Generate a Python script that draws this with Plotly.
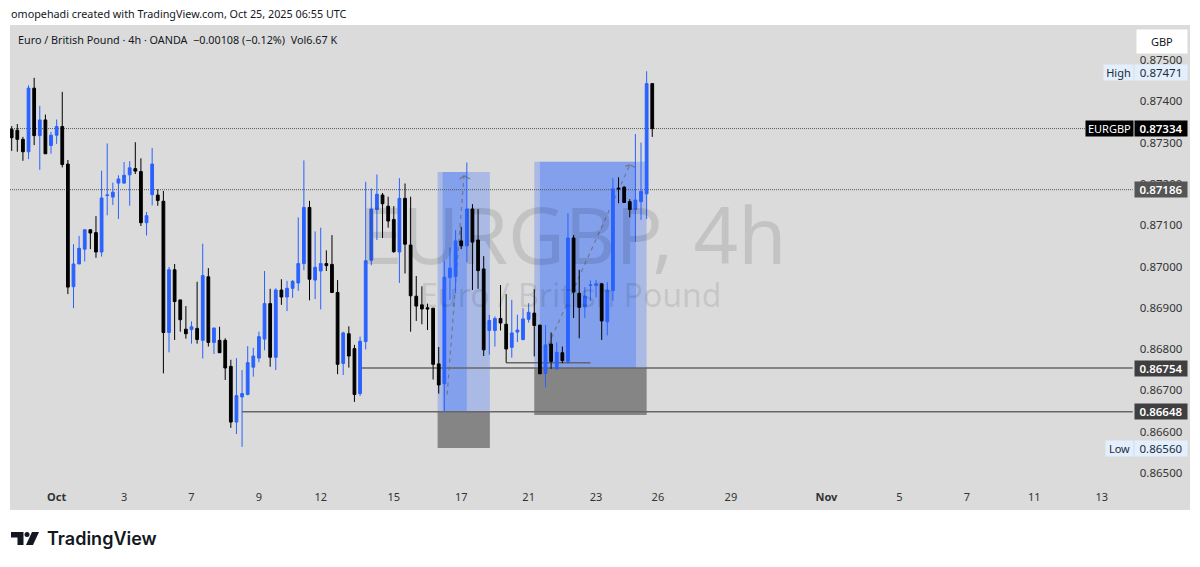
#!/usr/bin/env python
# coding: utf-8

import plotly.graph_objects as go

# ## Chart data, 4h bars of EURGBP

opens = [0.87332, 0.87330, 0.87308, 0.87278, 0.87432, 0.87317, 0.87355, 0.87293, 0.87318, 0.87339,
         0.87248, 0.86951, 0.87006, 0.87042, 0.87089, 0.87082, 0.87035, 0.87172, 0.87168, 0.87202,
         0.87202, 0.87222, 0.87237, 0.87230, 0.87106, 0.87174, 0.87173, 0.87158, 0.86840, 0.86992,
         0.86919, 0.86848, 0.86847, 0.86850, 0.86821, 0.86975, 0.86816, 0.86821, 0.86821, 0.86758,
         0.86623, 0.86684, 0.86690, 0.86756, 0.86778, 0.86824, 0.86910, 0.86780, 0.86943, 0.86926,
         0.86947, 0.86960, 0.87007, 0.87143, 0.86967, 0.86989, 0.87007, 0.87005, 0.86937, 0.86765,
         0.86837, 0.86801, 0.86692, 0.86818, 0.87015, 0.87138, 0.87173, 0.87146, 0.87114, 0.87035,
         0.87165, 0.87052, 0.86928, 0.86907, 0.86900, 0.86899, 0.86764, 0.86716, 0.86973, 0.86975,
         0.87062, 0.87050, 0.87139, 0.87064, 0.86994, 0.86845, 0.86845, 0.86874, 0.86860, 0.86804,
         0.86841, 0.86823, 0.86872, 0.86887, 0.86858, 0.86741, 0.86812, 0.86752, 0.86791, 0.86770,
         0.87069, 0.86935, 0.86902, 0.86954, 0.86954, 0.86958, 0.86866, 0.86941, 0.87190, 0.87192,
         0.87157, 0.87138, 0.87157, 0.87176, 0.87443]
highs = [0.87340, 0.87345, 0.87314, 0.87439, 0.87457, 0.87389, 0.87368, 0.87326, 0.87356, 0.87423,
         0.87258, 0.87054, 0.87074, 0.87089, 0.87089, 0.87122, 0.87232, 0.87298, 0.87203, 0.87221,
         0.87253, 0.87255, 0.87301, 0.87262, 0.87132, 0.87287, 0.87187, 0.87183, 0.86999, 0.87006,
         0.86919, 0.86904, 0.86867, 0.86963, 0.87055, 0.86996, 0.86851, 0.86854, 0.86826, 0.86774,
         0.86778, 0.86749, 0.86807, 0.86803, 0.86842, 0.86989, 0.86946, 0.86947, 0.86969, 0.86965,
         0.86967, 0.87119, 0.87257, 0.87159, 0.87085, 0.87094, 0.87039, 0.87076, 0.86967, 0.86842,
         0.86855, 0.86810, 0.86830, 0.87205, 0.87189, 0.87223, 0.87178, 0.87169, 0.87146, 0.87214,
         0.87201, 0.87169, 0.86977, 0.86952, 0.86910, 0.86899, 0.86805, 0.87013, 0.87046, 0.87088,
         0.87096, 0.87252, 0.87151, 0.87139, 0.87025, 0.86883, 0.86879, 0.86955, 0.86933, 0.86919,
         0.86883, 0.86899, 0.86911, 0.86945, 0.86858, 0.86858, 0.86840, 0.86816, 0.86806, 0.87129,
         0.87076, 0.86992, 0.86950, 0.86966, 0.86967, 0.86959, 0.86962, 0.87214, 0.87216, 0.87195,
         0.87163, 0.87321, 0.87300, 0.87473, 0.87444]
lows = [0.87280, 0.87278, 0.87256, 0.87260, 0.87294, 0.87234, 0.87273, 0.87273, 0.87297, 0.87240,
        0.86933, 0.86899, 0.87006, 0.87012, 0.87042, 0.87021, 0.87024, 0.87124, 0.87149, 0.87115,
        0.87200, 0.87147, 0.87224, 0.87098, 0.87075, 0.87148, 0.87147, 0.86741, 0.86792, 0.86822,
        0.86842, 0.86825, 0.86813, 0.86813, 0.86777, 0.86806, 0.86788, 0.86791, 0.86725, 0.86609,
        0.86594, 0.86563, 0.86688, 0.86733, 0.86768, 0.86797, 0.86757, 0.86749, 0.86907, 0.86892,
        0.86924, 0.86941, 0.86991, 0.86918, 0.86921, 0.86896, 0.86989, 0.86937, 0.86739, 0.86737,
        0.86755, 0.86672, 0.86686, 0.86799, 0.87003, 0.87064, 0.87069, 0.87094, 0.87033, 0.86960,
        0.86983, 0.86842, 0.86868, 0.86860, 0.86846, 0.86726, 0.86692, 0.86649, 0.86919, 0.86935,
        0.87042, 0.87010, 0.86943, 0.86946, 0.86783, 0.86786, 0.86806, 0.86845, 0.86767, 0.86779,
        0.86817, 0.86821, 0.86864, 0.86782, 0.86740, 0.86707, 0.86752, 0.86750, 0.86766, 0.86764,
        0.86875, 0.86826, 0.86875, 0.86917, 0.86925, 0.86822, 0.86833, 0.86917, 0.87153, 0.87155,
        0.87119, 0.87060, 0.87113, 0.87115, 0.87314]
closes = [0.87312, 0.87308, 0.87278, 0.87432, 0.87317, 0.87355, 0.87273, 0.87318, 0.87339, 0.87247,
          0.86950, 0.87006, 0.87044, 0.87089, 0.87081, 0.87035, 0.87166, 0.87173, 0.87180, 0.87212,
          0.87221, 0.87239, 0.87231, 0.87106, 0.87123, 0.87248, 0.87160, 0.86840, 0.86992, 0.86915,
          0.86871, 0.86837, 0.86854, 0.86823, 0.86978, 0.86816, 0.86851, 0.86791, 0.86754, 0.86623,
          0.86687, 0.86692, 0.86767, 0.86783, 0.86830, 0.86910, 0.86780, 0.86943, 0.86926, 0.86947,
          0.86964, 0.87007, 0.87143, 0.86969, 0.86998, 0.87007, 0.87002, 0.86937, 0.86763, 0.86839,
          0.86783, 0.86690, 0.86819, 0.87014, 0.87139, 0.87175, 0.87152, 0.87110, 0.87036, 0.87165,
          0.87054, 0.86929, 0.86904, 0.86897, 0.86897, 0.86763, 0.86713, 0.86974, 0.86996, 0.87062,
          0.87050, 0.87139, 0.87059, 0.86990, 0.86798, 0.86869, 0.86874, 0.86863, 0.86800, 0.86839,
          0.86846, 0.86873, 0.86889, 0.86857, 0.86740, 0.86810, 0.86770, 0.86792, 0.86772, 0.87069,
          0.86938, 0.86901, 0.86928, 0.86955, 0.86958, 0.86868, 0.86942, 0.87188, 0.87188, 0.87155,
          0.87138, 0.87161, 0.87182, 0.87443, 0.87334]

date_ticks = [8, 20, 32, 44, 55, 68, 80, 92, 104, 115, 128, 145, 158, 170, 182, 194]
date_labels = ['Oct', '3', '7', '9', '12', '15', '17', '21', '23', '26', '29', 'Nov', '5', '7', '11', '13']
bold_dates = ['Oct', 'Nov']

price_ticks = [0.865, 0.866, 0.867, 0.868, 0.869, 0.870, 0.871, 0.872, 0.873, 0.874, 0.875]

# zones drawn on the chart, in bars and prices: (first bar, last bar, bottom, top)
blue_outer = [(75.8, 85.1, 0.86648, 0.87229), (93.0, 113.0, 0.86754, 0.87254)]
blue_inner = [(76.7, 81.0, 0.86648, 0.87229), (94.0, 111.1, 0.86754, 0.87254)]
grey_zones = [(75.8, 85.1, 0.86560, 0.86648), (93.0, 113.0, 0.86640, 0.86754)]

# levels: (price, first bar, last bar)
dotted_levels = [(0.87334, -0.3, 191.0), (0.87186, -0.3, 199.5)]
solid_levels = [(0.86754, 62.0, 199.5), (0.86648, 41.0, 199.5), (0.86767, 88.0, 103.0)]

# dashed moves inside the zones: (bar, price, bar, price)
dashed_moves = [(77.5, 0.86690, 80.5, 0.87220), (95.5, 0.86810, 110.0, 0.87246)]
arrow_heads = [(80.5, 0.87220, 79.7, 0.87212), (80.5, 0.87220, 81.6, 0.87212),
               (110.0, 0.87246, 109.2, 0.87243), (110.0, 0.87246, 111.0, 0.87240)]

# tags on the price scale: (price, text, background, text colour)
price_tags = [(0.87471, '0.87471', '#e3effd', '#222a3a'), (0.87334, '0.87334', '#000000', '#ffffff'),
              (0.87186, '0.87186', '#555555', '#ffffff'), (0.86754, '0.86754', '#3f3f3f', '#ffffff'),
              (0.86648, '0.86648', '#3f3f3f', '#ffffff'), (0.86560, '0.86560', '#e3effd', '#222a3a')]
side_tags = [(0.87471, 'High', '#e3effd', '#222a3a', 1103), (0.87334, 'EURGBP', '#000000', '#ffffff', 1085),
             (0.86560, 'Low', '#e3effd', '#222a3a', 1105)]

BG = '#dbdbdb'
BLUE = '#2962ff'
BLACK = '#000000'
FONT = 'Noto Sans'

# plot area in page pixels
LEFT, RIGHT, TOP, BOTTOM = 10, 1190, 25, 510


def page_x(px):
    return (px - LEFT) / (RIGHT - LEFT)


def page_y(py):
    return (BOTTOM - py) / (BOTTOM - TOP)


def logo_path(points):
    return 'M' + ' L'.join(f'{page_x(a):.5f},{page_y(b):.5f}' for a, b in points) + ' Z'


bars = list(range(len(opens)))

fig = go.Figure(go.Candlestick(
    x=bars, open=opens, high=highs, low=lows, close=closes,
    increasing={'line': {'color': BLUE, 'width': 1}, 'fillcolor': BLUE},
    decreasing={'line': {'color': BLACK, 'width': 1}, 'fillcolor': BLACK},
    whiskerwidth=0, showlegend=False, hoverinfo='skip',
))

for x0, x1, y0, y1 in grey_zones:
    fig.add_shape(type='rect', x0=x0, x1=x1, y0=y0, y1=y1, layer='below',
                  fillcolor='#858585', line={'width': 0})
for x0, x1, y0, y1 in blue_outer:
    fig.add_shape(type='rect', x0=x0, x1=x1, y0=y0, y1=y1, layer='below',
                  fillcolor='rgba(41,98,255,0.27)', line={'width': 0})
for x0, x1, y0, y1 in blue_inner:
    fig.add_shape(type='rect', x0=x0, x1=x1, y0=y0, y1=y1, layer='below',
                  fillcolor='rgba(41,98,255,0.30)', line={'width': 0})

for price, x0, x1 in dotted_levels:
    fig.add_shape(type='line', x0=x0, x1=x1, y0=price, y1=price, layer='below',
                  line={'color': '#555555', 'width': 1, 'dash': '1px,1px'})
for price, x0, x1 in solid_levels:
    fig.add_shape(type='line', x0=x0, x1=x1, y0=price, y1=price, layer='below',
                  line={'color': '#666666', 'width': 1.5})
for x0, y0, x1, y1 in dashed_moves:
    fig.add_shape(type='line', x0=x0, x1=x1, y0=y0, y1=y1, layer='below',
                  line={'color': 'rgba(110,110,110,0.8)', 'width': 1.2, 'dash': '4px,4px'})
for x0, y0, x1, y1 in arrow_heads:
    fig.add_shape(type='line', x0=x0, x1=x1, y0=y0, y1=y1, layer='below',
                  line={'color': 'rgba(110,110,110,0.8)', 'width': 1.2})

# TradingView logo
fig.add_shape(type='path', xref='paper', yref='paper', fillcolor='#131722', line={'width': 0},
              path=logo_path([(11, 532), (23.5, 532), (23.5, 545), (17.5, 545), (17.5, 537.5), (11, 537.5)]))
fig.add_shape(type='circle', xref='paper', yref='paper', fillcolor='#131722', line={'width': 0},
              x0=page_x(24.5), x1=page_x(29.5), y0=page_y(537), y1=page_y(532))
fig.add_shape(type='path', xref='paper', yref='paper', fillcolor='#131722', line={'width': 0},
              path=logo_path([(32, 532), (39, 532), (33, 545), (26, 545)]))


def page_text(text, px, py, size, color='#131722', weight=400, family=FONT, anchor='left'):
    fig.add_annotation(text=text, xref='paper', yref='paper', x=page_x(px), y=page_y(py),
                       xanchor=anchor, yanchor='middle', showarrow=False,
                       font={'size': size, 'color': color, 'weight': weight, 'family': family})


# watermark behind the bars
page_text('EURGBP, 4h', 357, 234, 78, color='rgba(0,0,0,0.11)')
page_text('Euro / British Pound', 418, 294, 32, color='rgba(0,0,0,0.11)')

page_text('omopehadi created with TradingView.com, Oct 25, 2025 06:55 UTC', 9, 13.5, 10.8)
page_text('Euro / British Pound · 4h · OANDA  −0.00108 (−0.12%)  Vol6.67 K', 16, 39, 10.8)
page_text('TradingView', 45, 538.5, 18, weight=600, family='Inter')

for price, text, bg, color in price_tags:
    fig.add_annotation(text=text, xref='paper', yref='y', x=page_x(1134), y=price, xanchor='left',
                       yanchor='middle', showarrow=False, bgcolor=bg, width=52, height=15, borderpad=0,
                       font={'size': 11.5, 'color': color, 'family': FONT,
                             'weight': 400 if color != '#ffffff' else 600})
for price, text, bg, color, px in side_tags:
    fig.add_annotation(text=text, xref='paper', yref='y', x=page_x(px), y=price, xanchor='left',
                       yanchor='middle', showarrow=False, bgcolor=bg, width=1132 - px, height=15, borderpad=0,
                       font={'size': 11, 'color': color, 'family': FONT})

# GBP currency button
fig.add_annotation(text='GBP', xref='paper', yref='paper', x=page_x(1136), y=page_y(41.5), xanchor='left',
                   yanchor='middle', showarrow=False, bgcolor='#ffffff', width=50, height=23, borderpad=0,
                   font={'size': 11, 'color': '#131722', 'family': FONT})

fig.update_layout(
    width=1200, height=567,
    margin={'l': LEFT, 'r': 1200 - RIGHT, 't': TOP, 'b': 567 - BOTTOM},
    paper_bgcolor='#ffffff', plot_bgcolor=BG,
    xaxis={
        'range': [-0.3, 209.7], 'rangeslider': {'visible': False}, 'showgrid': False, 'zeroline': False,
        'tickmode': 'array', 'tickvals': date_ticks,
        'ticktext': [f'<b>{d}</b>' if d in bold_dates else d for d in date_labels],
        'ticklabelposition': 'inside', 'ticks': 'inside', 'ticklen': 6, 'tickcolor': 'rgba(0,0,0,0)',
        'tickfont': {'size': 11, 'color': '#333333', 'family': FONT},
    },
    yaxis={
        'range': [0.86410, 0.87585], 'side': 'right', 'showgrid': False, 'zeroline': False,
        'tickmode': 'array', 'tickvals': price_ticks, 'ticktext': [f'{p:.5f}' for p in price_ticks],
        'ticklabelposition': 'inside', 'ticks': 'inside', 'ticklen': 7, 'tickcolor': 'rgba(0,0,0,0)',
        'tickfont': {'size': 11.5, 'color': '#333333', 'family': FONT},
    },
)

fig.write_html('out.html', config={'displayModeBar': False}, post_script="document.body.style.margin='0';")
